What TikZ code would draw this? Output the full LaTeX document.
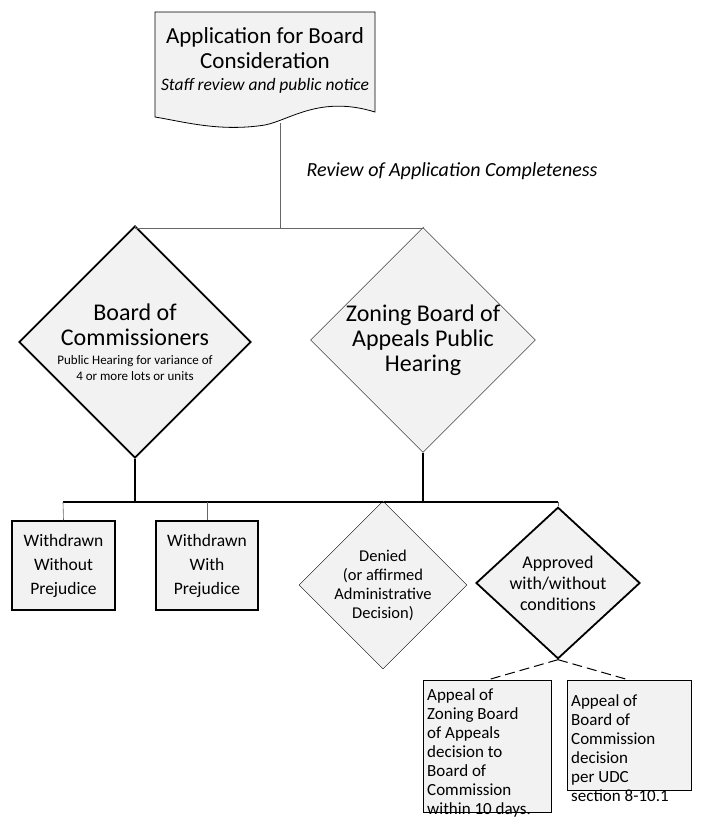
\documentclass[tikz,border=0pt]{standalone}
\usepackage{fontspec}
\setmainfont{Carlito}
\usetikzlibrary{shapes.geometric}
\tikzset{
  box/.style={draw, fill=black!5, align=left, inner sep=4pt, font=\fontsize{17}{19}\selectfont},
  thickbox/.style={box, line width=1.6pt, align=center, font=\fontsize{17.5}{24}\selectfont},
  dia/.style={diamond, draw, fill=black!5, align=center, inner sep=0pt},
  link/.style={draw=black!60, line width=0.6pt},
  boldlink/.style={draw, line width=1.4pt}
}
\newcommand{\smalltxt}{\fontsize{13}{13}\selectfont}
\begin{document}
\begin{tikzpicture}[x=1pt, y=-1pt]
    \useasboundingbox (0,0) rectangle (703,826);

    % application document
    \draw[fill=black!5, line width=0.8pt] (155,12) -- (375,12) -- (375,112)
      .. controls (320,95) and (290,120) .. (265,125)
      .. controls (220,132) and (185,122) .. (155,117) -- cycle;
    \node[align=center, font=\fontsize{23}{25}\selectfont] (app) at (265,60)
      {Application for Board\\Consideration\\[-3pt]{\fontsize{17.5}{19}\selectfont\itshape Staff review and public notice}};
    \coordinate (appb) at (280,123);
    \node[font=\fontsize{20}{22}\selectfont\itshape] (review) at (452,171) {Review of Application Completeness};

    \node[dia, line width=1.8pt, minimum width=220pt, minimum height=190pt, font=\fontsize{24}{25}\selectfont] (boc) at (135,342)
      {Board of\\Commissioners\\[-6pt]{\smalltxt Public Hearing for variance of}\\[-9pt]{\smalltxt 4 or more lots or units}};
    \node[dia, minimum width=219pt, minimum height=190pt, font=\fontsize{24}{25}\selectfont] (zba) at (423,340)
      {Zoning Board of\\Appeals Public\\Hearing};

    \coordinate (split) at (280,228);
    \coordinate (bocT) at (135,228);
    \coordinate (zbaT) at (423,228);
    \draw[link] (appb) -- (split);
    \draw[link] (bocT) -- (zbaT);
    \draw[link] (bocT) -- (boc.north);
    \draw[link] (zbaT) -- (zba.north);

    \node[thickbox, text width=95pt, minimum height=89pt] (wwo) at (63.5,565.5)
      {Withdrawn\\Without\\Prejudice};
    \node[thickbox, text width=94pt, minimum height=89pt] (ww) at (207,565.5)
      {Withdrawn\\With\\Prejudice};
    \node[dia, minimum width=161pt, minimum height=129pt, font=\fontsize{16.5}{19}\selectfont] (den) at (383,585)
      {Denied\\(or affirmed\\Administrative\\Decision)};
    \node[dia, line width=1.8pt, minimum width=164pt, minimum height=137pt, font=\fontsize{18}{21}\selectfont] (appr) at (558,583)
      {Approved\\with/without\\conditions};

    \coordinate (bocB) at (135,502);
    \coordinate (zbaB) at (423,502);
    \coordinate (l1) at (63,502);
    \coordinate (l2) at (207,502);
    \coordinate (l3) at (383,502);
    \coordinate (l4) at (558,502);
    \draw[boldlink] (boc.south) -- (bocB);
    \draw[boldlink] (zba.south) -- (zbaB);
    \draw[boldlink] (l1) -- (l4);
    \draw[link] (l1) -- (wwo.north);
    \draw[link] (l2) -- (ww.north);
    \draw[link] (l3) -- (den.north);
    \draw[link] (l4) -- (appr.north);

    \node[draw, fill=black!5, minimum width=128pt, minimum height=132pt, anchor=north west] (apz) at (423,680) {};
    \node[box, anchor=north west, draw=none, fill=none] (apzt) at ([yshift=-4pt]apz.north west)
      {Appeal of\\Zoning Board\\of Appeals\\decision to\\Board of\\Commission\\within 10 days.};
    \node[draw, fill=black!5, minimum width=124pt, minimum height=110pt, anchor=north west] (apb) at (567,680) {};
    \node[box, anchor=north west, draw=none, fill=none] (apbt) at ([yshift=-10pt]apb.north west)
      {Appeal of\\Board of\\Commission\\decision\\per UDC\\section 8-10.1};
    \draw[line width=1pt, dash pattern=on 10pt off 5pt] (appr.south) -- (apz.north);
    \draw[line width=1pt, dash pattern=on 10pt off 5pt] (appr.south) -- (apb.north);
\end{tikzpicture}
\end{document}
